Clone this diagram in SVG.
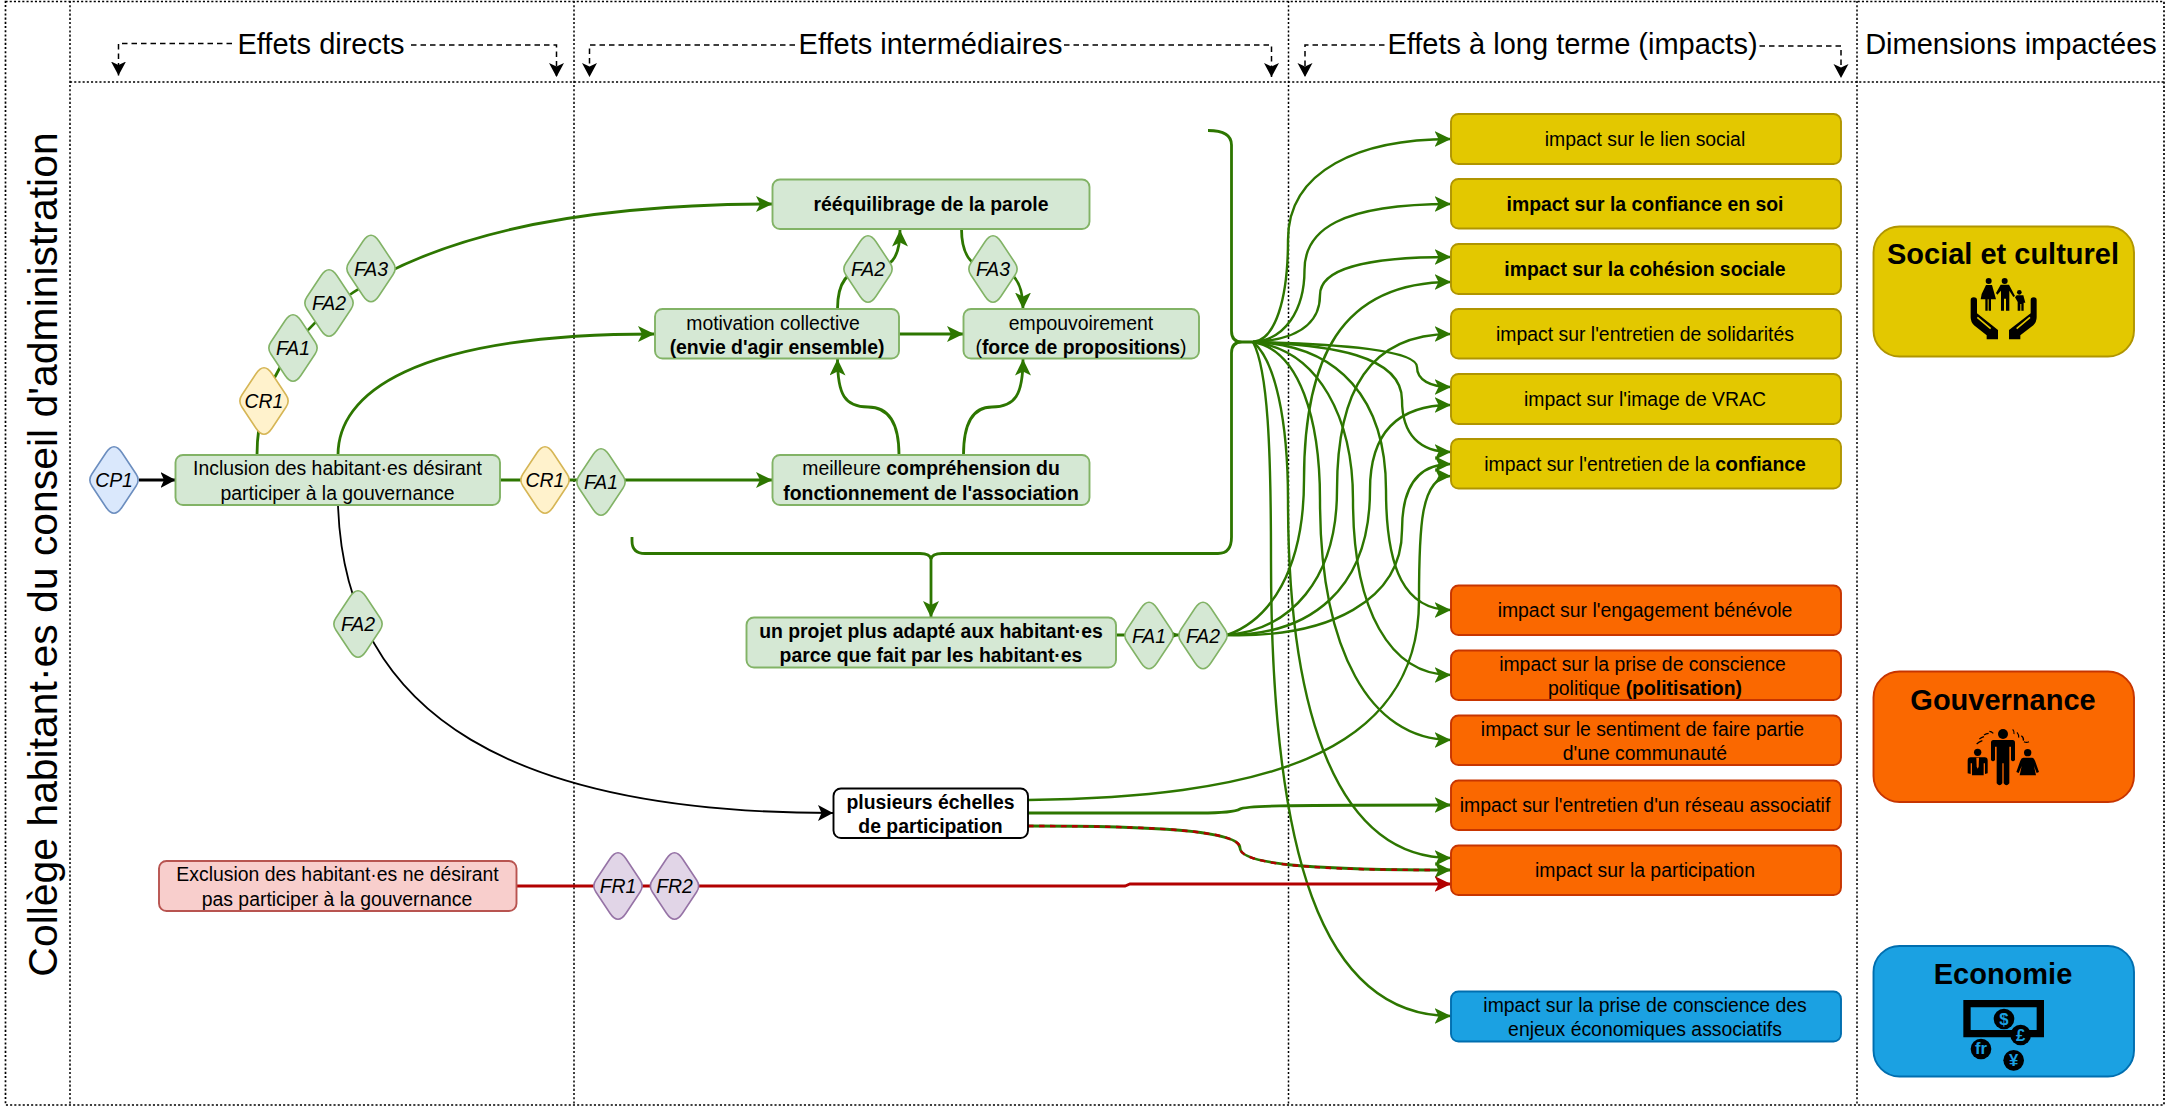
<svg xmlns="http://www.w3.org/2000/svg" width="2165" height="1106" viewBox="0 0 2165 1106">
<style>
text{font-family:"Liberation Sans",Arial,sans-serif;fill:#000}
.t{font-size:19.4px;text-anchor:middle}
.b{font-weight:bold}
.i{font-size:19.4px;font-style:italic;text-anchor:middle}
.h{font-size:29px;text-anchor:middle}
.d{font-size:29px;font-weight:bold;text-anchor:middle}
.grid{fill:none;stroke:#000;stroke-width:1.5;stroke-dasharray:2.1 2.1}
.dot{fill:none;stroke:#000;stroke-width:1.7;stroke-dasharray:2.1 2.1}
.hd{fill:none;stroke:#000;stroke-width:1.5;stroke-dasharray:5.5 4;marker-end:url(#ah)}
.g{fill:none;stroke:#2d7600;stroke-width:2.8;marker-end:url(#ag)}
.gf{fill:none;stroke:#2d7600;stroke-width:2.4;marker-end:url(#ag)}
.gn{fill:none;stroke:#2d7600;stroke-width:2.8}
.k{fill:none;stroke:#000;stroke-width:1.8;marker-end:url(#ak)}
.r{fill:none;stroke:#b20000;stroke-width:2.8;marker-end:url(#ar)}
.rd{fill:none;stroke:#b20000;stroke-width:2.4;stroke-dasharray:5.5 5.5}
.bg{fill:#d5e8d4;stroke:#82b366;stroke-width:1.9}
.bw{fill:#fff;stroke:#000;stroke-width:1.9}
.br{fill:#f8cecc;stroke:#b85450;stroke-width:1.9}
.by{fill:#e3c800;stroke:#b09500;stroke-width:1.9}
.bo{fill:#fa6800;stroke:#c73500;stroke-width:1.9}
.bb{fill:#1ba1e2;stroke:#006eaf;stroke-width:1.9}
.dg{fill:#d5e8d4;stroke:#82b366;stroke-width:1.6}
.dy{fill:#fff2cc;stroke:#d6b656;stroke-width:1.6}
.dl{fill:#dae8fc;stroke:#6c8ebf;stroke-width:1.6}
.dp{fill:#e1d5e7;stroke:#9673a6;stroke-width:1.6}
.ic{font-weight:bold;font-size:50px;text-anchor:middle;fill:#1ba1e2}
</style>
<defs>
<marker id="ag" markerUnits="userSpaceOnUse" markerWidth="18" markerHeight="18" refX="16.5" refY="8" orient="auto"><path d="M0 0L16.5 8L0 16L4 8Z" fill="#2d7600"/></marker>
<marker id="ar" markerUnits="userSpaceOnUse" markerWidth="18" markerHeight="18" refX="16.5" refY="8" orient="auto"><path d="M0 0L16.5 8L0 16L4 8Z" fill="#b20000"/></marker>
<marker id="ak" markerUnits="userSpaceOnUse" markerWidth="18" markerHeight="18" refX="15" refY="8" orient="auto"><path d="M0 0L15 8L0 16L3.500 8Z" fill="#000"/></marker>
<marker id="ah" markerUnits="userSpaceOnUse" markerWidth="16" markerHeight="16" refX="14" refY="7.500" orient="auto"><path d="M0 0L14 7.500L0 15L3.500 7.500Z" fill="#000"/></marker>
<path id="rh" d="M-8 -27.2Q0 -39.2 8 -27.2L22.1 -6Q26.2 0 22.1 6L8 27.2Q0 39.2 -8 27.2L-22.1 6Q-26.2 0 -22.1 -6Z"/>
</defs>

<g id="grid">
<rect class="dot" x="5.500" y="1.500" width="2158.500" height="1103.500"/>
<path class="grid" d="M70 1V1105M574 1V1105M1288.500 1V1105M1857 1V1105"/>
<path class="dot" d="M70 82H2164"/>
</g>

<g id="headers">
<text class="h" x="321" y="54">Effets directs</text>
<text class="h" x="930.500" y="54">Effets intermédiaires</text>
<text class="h" x="1572.500" y="54">Effets à long terme (impacts)</text>
<text class="h" x="2011" y="54">Dimensions impactées</text>
<text font-size="40.900" transform="translate(57 554.500) rotate(-90)" text-anchor="middle">Collège habitant·es du conseil d'administration</text>
</g>

<g id="connectors">
<path class="hd" d="M232 43.500H118.500V75.500"/>
<path class="hd" d="M411 45H556.500V77"/>
<path class="hd" d="M795 45H589.500V77"/>
<path class="hd" d="M1064 45H1271.500V77"/>
<path class="hd" d="M1384.500 45H1305V77"/>
<path class="hd" d="M1759.500 46H1841V78"/>

<path class="k" style="stroke-width:2.800" d="M139 480H175.500"/>
<path class="g" d="M500 480H772.500"/>
<path class="g" d="M257 455C257 310 420 204 772.500 204"/>
<path class="g" d="M338 455C338 395 410 334 654.500 334"/>
<path class="k" d="M338 505C345 720 520 813 833 813"/>
<path class="g" d="M899 455C899 425 890 407 868 407C845 407 837.500 395 837.500 359"/>
<path class="g" d="M963.500 455C963.500 425 972 407 992 407C1015 407 1023 395 1023 359"/>
<path class="g" d="M899 334H963.500"/>
<path class="g" d="M837.500 309C837.500 280 850 269 868 269C890 269 900 260 900 230"/>
<path class="g" d="M961.500 228.500C961.500 260 975 269 993 269C1012 269 1023 280 1023 309"/>

<path class="gn" d="M632 537V541Q632 553.500 645 553.500H920Q930 553.500 931 559Q932 553.500 942 553.500H1218Q1231.500 553.500 1231.500 537V353Q1231.500 342 1242 342H1253M1242 342Q1231.500 342 1231.500 331V145Q1231.500 130.500 1208 130.500"/>
<path class="g" d="M931 556V617.500"/>

<path class="gf" d="M1253 342C1275 340 1288 300 1288 240C1288 170 1360 139 1451 139"/>
<path class="gf" d="M1253 342C1285 340 1304.500 310 1304.500 270C1304.500 230 1340 204 1451 204"/>
<path class="gf" d="M1253 342C1295 340 1320 325 1320 295C1320 270 1360 257 1451 257"/>
<path class="gf" d="M1253 342C1340 344 1417 350 1417 367C1417 380 1430 387 1451 387"/>
<path class="gf" d="M1253 342C1330 345 1402 355 1402 400C1402 435 1420 452 1451 452"/>
<path class="gf" d="M1253 342C1340 345 1386 400 1386 490C1386 570 1405 610 1451 610"/>
<path class="gf" d="M1253 342C1320 350 1353 420 1353 500C1353 610 1390 675 1451 675"/>
<path class="gf" d="M1253 342C1300 350 1320 420 1320 500C1320 650 1370 740 1451 740"/>
<path class="gf" d="M1253 342C1275 360 1288 420 1288 500C1288 720 1340 858 1451 858"/>
<path class="gf" d="M1253 342C1268 370 1271 450 1271 560C1271 850 1320 1016 1451 1016"/>

<path class="g" d="M1116 635H1179"/>
<path class="gf" d="M1227 635C1270 620 1304 570 1304 480C1304 360 1340 282 1451 282"/>
<path class="gf" d="M1227 635C1290 630 1337 580 1337 490C1337 390 1370 334 1451 334"/>
<path class="gf" d="M1227 635C1310 635 1370 590 1370 490C1370 430 1400 405 1451 405"/>
<path class="gf" d="M1227 635C1330 638 1402 600 1402 530C1402 490 1415 464 1451 464"/>

<path class="gf" d="M1028 800C1250 797 1419 760 1419 600C1419 530 1420 476 1451 476"/>
<path class="g" d="M1028 813H1200C1225 813 1235 812 1240 809C1245 806 1270 805 1451 805"/>
<path class="g" d="M1028 826C1150 826 1240 830 1240 848C1240 866 1330 870 1451 870"/>
<path class="rd" d="M1028 826C1150 826 1240 830 1240 848C1240 866 1330 870 1436 870"/>
<path class="r" d="M516.500 886H1125L1130 884H1451"/>
</g>

<g id="cp1"><use href="#rh" class="dl" x="114" y="480"/><text class="i" x="114" y="487">CP1</text></g>
<g id="inclusion"><rect class="bg" x="175.500" y="455" width="324.500" height="50" rx="7.500"/><text class="t" x="337.500" y="475.200">Inclusion des habitant·es désirant</text><text class="t" x="337.500" y="499.500">participer à la gouvernance</text></g>
<g id="cr1-a"><use href="#rh" class="dy" x="545" y="480"/><text class="i" x="545" y="487">CR1</text></g>
<g id="fa1-a"><use href="#rh" class="dg" x="601" y="482"/><text class="i" x="601" y="489">FA1</text></g>
<g id="comprehension"><rect class="bg" x="772.500" y="455" width="317" height="50" rx="7.500"/><text class="t" x="931" y="475.200">meilleure <tspan class="b">compréhension du</tspan></text><text class="t b" x="931" y="499.500">fonctionnement de l'association</text></g>
<g id="reequilibrage"><rect class="bg" x="772.500" y="179.500" width="317" height="49.500" rx="7.500"/><text class="t b" x="931" y="211">rééquilibrage de la parole</text></g>
<g id="motivation"><rect class="bg" x="655" y="309" width="244" height="49.500" rx="7.500"/><text class="t" x="773" y="329.500">motivation collective</text><text class="t b" x="777" y="353.500">(envie d'agir ensemble)</text></g>
<g id="empouvoirement"><rect class="bg" x="963.500" y="309" width="235.500" height="49.500" rx="7.500"/><text class="t" x="1081" y="329.500">empouvoirement</text><text class="t" x="1081" y="353.500">(<tspan class="b">force de propositions</tspan>)</text></g>
<g id="fa2-b"><use href="#rh" class="dg" x="868" y="269"/><text class="i" x="868" y="276">FA2</text></g>
<g id="fa3-b"><use href="#rh" class="dg" x="993" y="269"/><text class="i" x="993" y="276">FA3</text></g>
<g id="cr1-c"><use href="#rh" class="dy" x="264" y="401"/><text class="i" x="264" y="408">CR1</text></g>
<g id="fa1-c"><use href="#rh" class="dg" x="293" y="348"/><text class="i" x="293" y="355">FA1</text></g>
<g id="fa2-c"><use href="#rh" class="dg" x="329" y="303"/><text class="i" x="329" y="310">FA2</text></g>
<g id="fa3-c"><use href="#rh" class="dg" x="371" y="268.500"/><text class="i" x="371" y="275.500">FA3</text></g>
<g id="fa2-d"><use href="#rh" class="dg" x="358" y="624"/><text class="i" x="358" y="631">FA2</text></g>
<g id="projet"><rect class="bg" x="746.500" y="617.500" width="369.500" height="50" rx="7.500"/><text class="t b" x="931" y="638">un projet plus adapté aux habitant·es</text><text class="t b" x="931" y="662">parce que fait par les habitant·es</text></g>
<g id="fa1-e"><use href="#rh" class="dg" x="1149" y="635.500"/><text class="i" x="1149" y="642.500">FA1</text></g>
<g id="fa2-e"><use href="#rh" class="dg" x="1203" y="635.500"/><text class="i" x="1203" y="642.500">FA2</text></g>
<g id="echelles"><rect class="bw" x="833.500" y="788.500" width="194.500" height="49.500" rx="7.500"/><text class="t b" x="930.500" y="808.500">plusieurs échelles</text><text class="t b" x="930.500" y="833">de participation</text></g>
<g id="exclusion"><rect class="br" x="159" y="861" width="357.500" height="50" rx="7.500"/><text class="t" x="337.500" y="881">Exclusion des habitant·es ne désirant</text><text class="t" x="337" y="905.500">pas participer à la gouvernance</text></g>
<g id="fr1"><use href="#rh" class="dp" x="618" y="886"/><text class="i" x="618" y="893">FR1</text></g>
<g id="fr2"><use href="#rh" class="dp" x="674.500" y="886"/><text class="i" x="674.500" y="893">FR2</text></g>

<g id="i1"><rect class="by" x="1451" y="114" width="390" height="50" rx="7.500"/><text class="t" x="1645" y="145.500">impact sur le lien social</text></g>
<g id="i2"><rect class="by" x="1451" y="179" width="390" height="49.500" rx="7.500"/><text class="t b" x="1645" y="210.500">impact sur la confiance en soi</text></g>
<g id="i3"><rect class="by" x="1451" y="244" width="390" height="50" rx="7.500"/><text class="t b" x="1645" y="275.500">impact sur la cohésion sociale</text></g>
<g id="i4"><rect class="by" x="1451" y="309" width="390" height="49.500" rx="7.500"/><text class="t" x="1645" y="340.500">impact sur l'entretien de solidarités</text></g>
<g id="i5"><rect class="by" x="1451" y="374" width="390" height="50" rx="7.500"/><text class="t" x="1645" y="405.500">impact sur l'image de VRAC</text></g>
<g id="i6"><rect class="by" x="1451" y="439" width="390" height="49.500" rx="7.500"/><text class="t" x="1645" y="470.500">impact sur l'entretien de la <tspan class="b">confiance</tspan></text></g>
<g id="i7"><rect class="bo" x="1451" y="585.500" width="390" height="49.500" rx="7.500"/><text class="t" x="1645" y="617">impact sur l'engagement bénévole</text></g>
<g id="i8"><rect class="bo" x="1451" y="650.500" width="390" height="49.500" rx="7.500"/><text class="t" x="1642.500" y="670.500">impact sur la prise de conscience</text><text class="t" x="1645" y="695">politique <tspan class="b">(politisation)</tspan></text></g>
<g id="i9"><rect class="bo" x="1451" y="715.500" width="390" height="49.500" rx="7.500"/><text class="t" x="1642.500" y="735.500">impact sur le sentiment de faire partie</text><text class="t" x="1645" y="760">d'une communauté</text></g>
<g id="i10"><rect class="bo" x="1451" y="780.500" width="390" height="49.500" rx="7.500"/><text class="t" x="1645" y="812">impact sur l'entretien d'un réseau associatif</text></g>
<g id="i11"><rect class="bo" x="1451" y="845.500" width="390" height="49.500" rx="7.500"/><text class="t" x="1645" y="877">impact sur la participation</text></g>
<g id="i12"><rect class="bb" x="1451" y="991.500" width="390" height="50" rx="7.500"/><text class="t" x="1645" y="1011.500">impact sur la prise de conscience des</text><text class="t" x="1645" y="1036">enjeux économiques associatifs</text></g>

<g id="dim-social">
<rect class="by" x="1873.500" y="226.500" width="260.500" height="130" rx="26"/>
<text class="d" x="2003" y="264">Social et culturel</text>
<g transform="translate(1860 220) scale(.33333)" fill="#000">
<path d="M332 240Q332 232 341 232Q351 232 351 240V280L414 330V358H380V346L342 316Q332 306 332 292Z"/>
<path d="M530 240Q530 232 521 232Q512 232 512 240V280L447 330V358H481V346L520 316Q530 306 530 292Z"/>
<path d="M352 292L392 326M510 292L470 326" stroke="#e3c800" stroke-width="5" fill="none"/>
<circle cx="386" cy="183" r="9"/><circle cx="434" cy="183" r="9"/><circle cx="478" cy="217" r="7"/>
<path d="M378 195H396L408 238H393V272H386V238H383V272H376V238H362L365 222Z"/>
<path d="M422 194H447L465 228L460 231L448 212V272H438V236H432V272H423V212L412 224L408 219Z"/>
<path d="M470 226H490L496 248H491V272H484V252H481V272H473V246L465 232Z"/>
</g>
</g>
<g id="dim-gouvernance">
<rect class="bo" x="1873.500" y="671.500" width="260.500" height="130.500" rx="26"/>
<text class="d" x="2003" y="710">Gouvernance</text>
<g transform="translate(1860 670) scale(.33333)" fill="#000">
<circle cx="429" cy="192" r="15"/>
<path d="M400 210H458Q465 210 465 218V270Q459 278 453 270V230H448V340Q439 352 431 340V280H427V340Q419 352 410 340V230H405V270Q399 278 393 270V218Q393 210 400 210Z"/>
<circle cx="353" cy="247" r="11"/>
<path d="M332 262H374Q383 262 383 272V310L375 312V280H371V316H336V280H332V312L323 310V272Q323 262 332 262Z"/>
<path d="M349 263H357L356 290L353 296L350 290Z" fill="#fa6800"/>
<circle cx="503" cy="248" r="11"/>
<path d="M490 263H516Q522 263 525 272L537 306L530 309L522 288L528 316H479L485 288L476 309L469 306L481 272Q484 263 490 263Z"/>
<path d="M350 222Q356 216 367 212M358 207Q364 203 372 200M372 195Q378 191 386 190M388 184Q394 184 400 190M458 178Q464 184 462 192M471 187Q478 195 476 203M484 197Q493 204 490 212M492 215Q499 219 507 215" stroke="#000" stroke-width="3.500" fill="none"/>
</g>
</g>
<g id="dim-economie">
<rect class="bb" x="1873.500" y="946" width="260.500" height="130.500" rx="26"/>
<text class="d" x="2003" y="984">Economie</text>
<g transform="translate(1860 670) scale(.33333)" fill="#000">
<path fill-rule="evenodd" d="M310 990H552V1102H310ZM332 1012V1080H530V1012Z"/>
<circle cx="432" cy="1047" r="31"/><circle cx="482" cy="1095" r="31"/><circle cx="363" cy="1137" r="31"/><circle cx="461" cy="1171" r="31"/>
<text class="ic" x="432" y="1065">$</text><text class="ic" x="482" y="1113">£</text><text class="ic" font-size="42" x="363" y="1152">fr</text><text class="ic" x="461" y="1189">¥</text>
</g>
</g>
</svg>
